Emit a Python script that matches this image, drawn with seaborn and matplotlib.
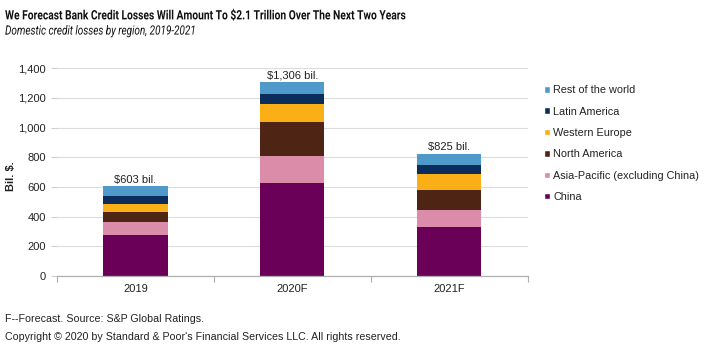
import numpy as np
import pandas as pd
import matplotlib
matplotlib.use("Agg")
import matplotlib.pyplot as plt
import seaborn as sns
from matplotlib.patches import Patch
from matplotlib.patheffects import AbstractPathEffect
from matplotlib.transforms import Affine2D

years = ["2019", "2020F", "2021F"]
regions = ["China", "Asia-Pacific (excluding China)", "North America",
           "Western Europe", "Latin America", "Rest of the world"]
china = [278, 628, 330]
asia_pacific = [88, 179, 114]
north_america = [66, 229, 135]
western_europe = [51, 123, 107]
latin_america = [56, 68, 61]
rest_of_world = [64, 79, 78]
totals = [603, 1306, 825]
total_labels = ["$603 bil.", "$1,306 bil.", "$825 bil."]
yticks = [0, 200, 400, 600, 800, 1000, 1200, 1400]

colors = ["#6A0058", "#DA8CA9", "#4E2515", "#FBAF17", "#0B2D5B", "#4F9ACA"]
series = [china, asia_pacific, north_america, western_europe, latin_america, rest_of_world]


class Condense(AbstractPathEffect):
    """Horizontally condense text glyphs about a left anchor (display px)."""
    def __init__(self, sx, x0):
        super().__init__()
        self.sx = sx
        self.x0 = x0

    def draw_path(self, renderer, gc, tpath, affine, rgbFace=None):
        t = affine + Affine2D().translate(-self.x0, 0).scale(self.sx, 1).translate(self.x0, 0)
        renderer.draw_path(gc, tpath, t, rgbFace)


sns.set_theme(style="white")
plt.rcParams["font.family"] = ["Liberation Sans", "DejaVu Sans"]

DPI = 100
fig = plt.figure(figsize=(7.2, 3.53), dpi=DPI)
ax = fig.add_axes([0.079, 0.218, 0.654, 0.589])

cum = np.cumsum(np.array(series), axis=0)
for i in range(len(series) - 1, -1, -1):
    df = pd.DataFrame({"year": years, "value": cum[i]})
    sns.barplot(data=df, x="year", y="value", color=colors[i], width=0.41,
                saturation=1, ax=ax, linewidth=0)

handles = [Patch(facecolor=colors[i], label=regions[i]) for i in range(len(series) - 1, -1, -1)]
ax.legend(handles=handles, loc="upper left", bbox_to_anchor=(1.013, 0.965),
          frameon=False, fontsize=7.8, handlelength=0.55, handleheight=0.55,
          handletextpad=0.35, labelspacing=1.05, labelcolor="#222222")

for i, (t, lab) in enumerate(zip(totals, total_labels)):
    ax.text(i, t + 8, lab, ha="center", va="bottom", fontsize=8, color="#222222")

ax.set_xlim(-0.5, 2.5)
ax.set_ylim(0, 1400)
ax.set_yticks(yticks)
ax.set_yticklabels([f"{v:,}" for v in yticks], fontsize=8, color="#222222")
ax.tick_params(axis="x", labelsize=8, colors="#222222", length=0, pad=6)
ax.set_xticks([0, 1, 2])
ax.set_xticklabels(years)
ax.set_xticks([-0.5, 0.5, 1.5, 2.5], minor=True)
ax.tick_params(axis="x", which="minor", length=4, color="#b0b0b0", width=0.8, direction="out", bottom=True)
ax.tick_params(axis="y", length=4, color="#d0d0d0", width=0.8, left=True, pad=4)
ax.yaxis.grid(True, color="#dcdcdc", linewidth=0.8)
ax.set_axisbelow(True)
for s in ["top", "right", "left"]:
    ax.spines[s].set_visible(False)
ax.spines["bottom"].set_color("#b0b0b0")
ax.spines["bottom"].set_linewidth(0.9)
ax.set_xlabel("")
ax.set_ylabel("Bil. $.", fontsize=8, color="#222222", fontweight="bold")
ax.yaxis.set_label_coords(-0.086, 0.48)

x0_px = 0.007 * 7.2 * DPI
fig.text(0.007, 0.955, "We Forecast Bank Credit Losses Will Amount To $2.1 Trillion Over The Next Two Years",
         fontsize=9.3, fontweight="bold", color="#111111", va="center", ha="left",
         family=["Roboto", "DejaVu Sans"], path_effects=[Condense(0.795, x0_px)])
fig.text(0.007, 0.912, "Domestic credit losses by region, 2019-2021", fontsize=9.2, style="italic",
         color="#111111", va="center", ha="left", family=["Roboto", "DejaVu Sans"],
         path_effects=[Condense(0.78, x0_px)])
fig.text(0.007, 0.095, "F--Forecast. Source: S&P Global Ratings.", fontsize=7.7, color="#222222", va="center")
fig.text(0.007, 0.045, "Copyright \u00a9 2020 by Standard & Poor's Financial Services LLC. All rights reserved.",
         fontsize=7.7, color="#222222", va="center")

fig.savefig("out.png", dpi=DPI)
